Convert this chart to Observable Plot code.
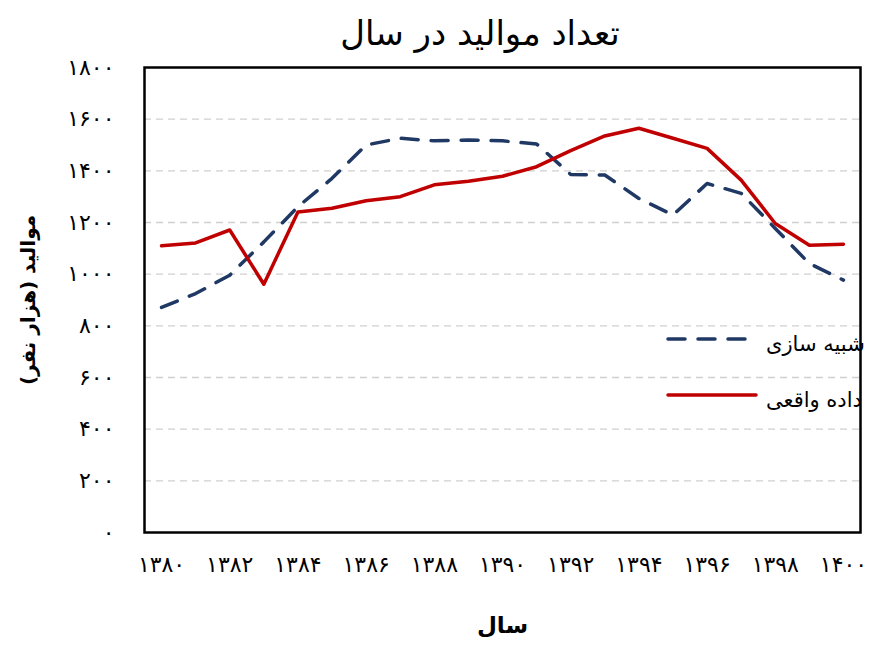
<!DOCTYPE html>
<html>
<head>
<meta charset="utf-8">
<script src="https://cdn.jsdelivr.net/npm/d3@7"></script>
<script src="https://cdn.jsdelivr.net/npm/@observablehq/plot@0.6"></script>
<style>
  body { margin: 0; background: #fff; font-family: "DejaVu Sans", sans-serif; }
  #wrap { position: relative; width: 874px; height: 649px; }
  #title { position: absolute; left: 86px; top: 0; height: 60px; line-height: 66px; font-size: 34px; text-align: center; width: 788px; direction: rtl; color: #000; z-index: 0; }
  #chart { position: absolute; left: 0; top: 30px; z-index: 2; }
  #chart svg { background: transparent !important; }
  #legend { position: absolute; left: 666px; top: 311px; z-index: 1; font-size: 21px; color: #000; }
  .item { display: flex; align-items: center; height: 56px; }
  .item span { margin-left: 8px; direction: rtl; white-space: nowrap; position: relative; top: 5px; }
</style>
</head>
<body>
<div id="wrap">
  <div id="title">تعداد موالید در سال</div>
  <div id="chart"></div>
  <div id="legend"></div>
</div>
<script>
const years = [1380,1381,1382,1383,1384,1385,1386,1387,1388,1389,1390,1391,1392,1393,1394,1395,1396,1397,1398,1399,1400];
const realValues = [1110,1121,1171,961,1241,1255,1284,1300,1346,1360,1379,1416,1478,1535,1565,1526,1487,1364,1196,1112,1116];
const simValues  = [871,925,996,1125,1261,1371,1500,1526,1516,1519,1516,1504,1386,1384,1293,1229,1351,1313,1177,1041,977];
const xTickValues = [1380,1382,1384,1386,1388,1390,1392,1394,1396,1398,1400];
const yTickValues = [0,200,400,600,800,1000,1200,1400,1600,1800];
const seriesNames = ["شبیه سازی", "داده واقعی"];
const titleText = "تعداد موالید در سال";
const xLabel = "سال";
const yLabel = "موالید (هزار نفر)";

const faDigits = "۰۱۲۳۴۵۶۷۸۹";
const fa = v => String(v).replace(/[0-9]/g, d => faDigits[+d]);

const realData = years.map((y, i) => ({year: y, value: realValues[i]}));
const simData = years.map((y, i) => ({year: y, value: simValues[i]}));
const gridValues = yTickValues.filter(v => v > 0 && v < 1800);

const blue = "#1F3864", red = "#C00000";

document.getElementById("title").textContent = titleText;

const chart = Plot.plot({
  width: 874,
  height: 619,
  marginLeft: 144,
  marginRight: 14,
  marginTop: 37,
  marginBottom: 117,
  style: {fontFamily: "DejaVu Sans, sans-serif", background: "transparent"},
  x: {domain: [1379.5, 1400.5], label: null},
  y: {domain: [0, 1800], label: null},
  marks: [
    Plot.ruleY(gridValues, {stroke: "#cfcfcf", strokeWidth: 1.3, strokeDasharray: "7,5"}),
    Plot.line(simData, {x: "year", y: "value", stroke: blue, strokeWidth: 3.5, strokeDasharray: "17,13", strokeLinecap: "round"}),
    Plot.line(realData, {x: "year", y: "value", stroke: red, strokeWidth: 3.5, strokeLinejoin: "round"}),
    Plot.frame({stroke: "#000", strokeWidth: 2.5}),
    Plot.axisX({ticks: xTickValues, tickFormat: fa, tickSize: 0, tickPadding: 24, fontSize: 22, fontWeight: "normal", label: null, fill: "#000"}),
    Plot.axisY({ticks: yTickValues, tickFormat: fa, tickSize: 0, tickPadding: 30, fontSize: 22, fontWeight: "normal", label: null, fill: "#000"}),
    Plot.text([xLabel], {frameAnchor: "bottom", dy: 100, fontSize: 23, fontWeight: "bold", fill: "#000"}),
    Plot.text([yLabel], {frameAnchor: "left", dx: -116, rotate: -90, textAnchor: "middle", fontSize: 20, fontWeight: "bold", fill: "#000"})
  ]
});
document.getElementById("chart").appendChild(chart);

const legend = document.getElementById("legend");
const items = [
  {name: seriesNames[0], color: blue, dash: "17,13"},
  {name: seriesNames[1], color: red, dash: null}
];
legend.innerHTML = items.map(it => `
  <div class="item">
    <svg width="92" height="10"><line x1="2" y1="5" x2="90" y2="5" stroke="${it.color}" stroke-width="3.5" stroke-linecap="round" ${it.dash ? `stroke-dasharray="${it.dash}"` : ""}/></svg>
    <span>${it.name}</span>
  </div>`).join("");
</script>
</body>
</html>
